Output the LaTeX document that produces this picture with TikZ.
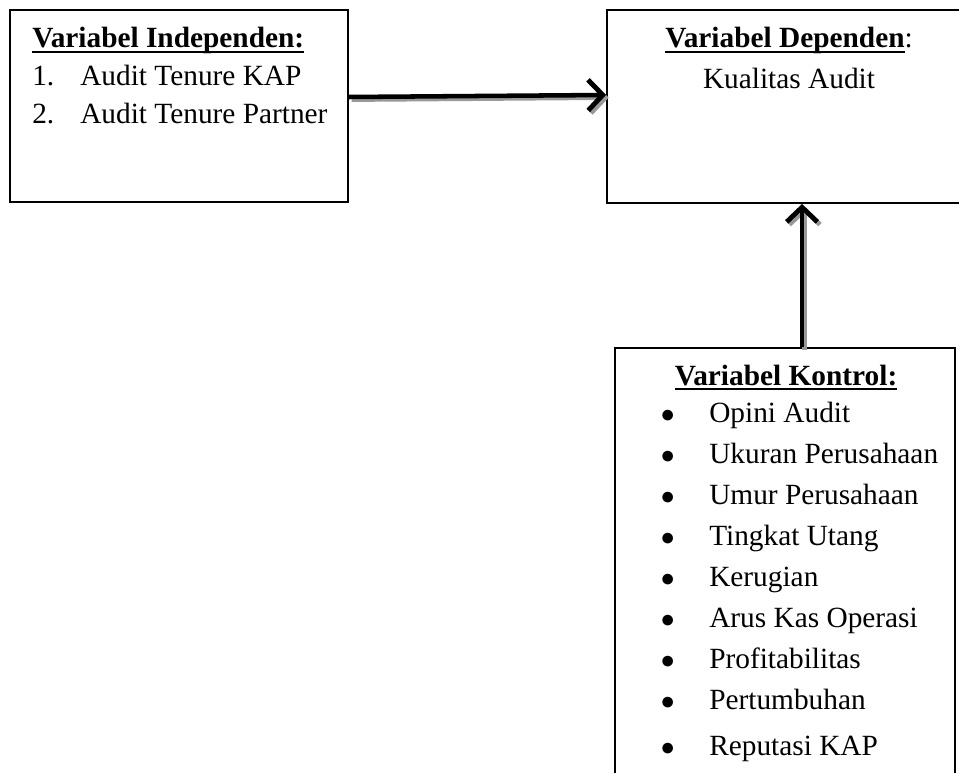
\documentclass[tikz,border=0pt]{standalone}
\usepackage{fontspec}
\setmainfont{Liberation Serif}
\usetikzlibrary{arrows.meta,positioning,fit,calc}

% underline that runs through the descenders, as in the original
\newcommand{\ulbox}[1]{\setbox0\hbox{#1}\rlap{\rule[-3.6pt]{\wd0}{1.3pt}}\box0}
\newcommand{\itembul}{\makebox[35.25pt][l]{\hspace{-1pt}$\bullet$}}

\begin{document}
\begin{tikzpicture}[
  x=0.75pt, y=-0.75pt,
  box/.style={draw, line width=1.4pt, inner sep=0pt},
  txt/.style={inner sep=0pt, font=\fontsize{22}{28.5}\selectfont},
  listtxt/.style={inner sep=0pt, font=\fontsize{22}{30.75}\selectfont},
  arrow/.style={-{Straight Barb[length=11pt, width=23pt, line width=3.6pt]}, line width=3.4pt},
  shadow/.style={arrow, draw=black!40, transform canvas={shift={(2pt,-2pt)}}}
]
\useasboundingbox (0,0) rectangle (959,773);
\clip (0,0) rectangle (959,773);

% boxes
\node[box, fit={(10,10) (348,202)}] (indep) {};
\node[box, fit={(607,10) (985,203)}] (dep) {};
\node[box, fit={(615,348) (955,800)}] (ctrl) {};

% texts
\node[txt, anchor=base west] (indeplist) at (32,48) {\begin{tabular}[t]{@{}l@{}}
  \ulbox{\textbf{Variabel Independen:}}\\
  \makebox[36pt][l]{1.}Audit Tenure KAP\\
  \makebox[36pt][l]{2.}Audit Tenure Partner
\end{tabular}};
\node[txt, anchor=base] (deptitle) at (789,48) {\ulbox{\textbf{Variabel Dependen}}:};
\node[txt, anchor=base] (depitem) at (789,89) {Kualitas Audit};
\node[txt, anchor=base] (ctrltitle) at (786,385) {\ulbox{\textbf{Variabel Kontrol:}}};
\node[listtxt, anchor=base west] (ctrllist) at (662,422) {\begin{tabular}[t]{@{}l@{}}
  \itembul Opini Audit\\
  \itembul Ukuran Perusahaan\\
  \itembul Umur Perusahaan\\
  \itembul Tingkat Utang\\
  \itembul Kerugian\\
  \itembul Arus Kas Operasi\\
  \itembul Profitabilitas\\
  \itembul Pertumbuhan\\[4pt]
  \itembul Reputasi KAP
\end{tabular}};

% connectors (grey shadow first, then the arrow)
\draw[shadow] (indep.east |- 0,97) -- (dep.west |- 0,95);
\draw[arrow] (indep.east |- 0,97) -- (dep.west |- 0,95);
\draw[shadow] (ctrl.north -| 802,0) -- (dep.south -| 802,0);
\draw[arrow] (ctrl.north -| 802,0) -- (dep.south -| 802,0);
\end{tikzpicture}
\end{document}
